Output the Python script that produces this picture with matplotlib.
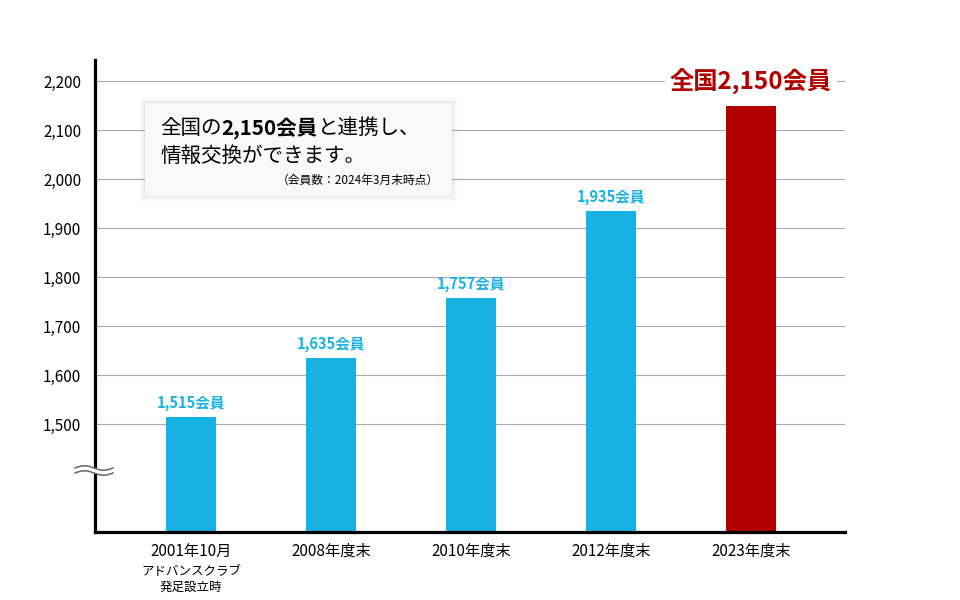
import matplotlib
matplotlib.use('Agg')
import matplotlib.pyplot as plt
import numpy as np
from matplotlib.patches import Rectangle

plt.rcParams['font.family'] = ['Noto Sans CJK JP', 'DejaVu Sans']

categories = ['2001年10月', '2008年度末', '2010年度末', '2012年度末', '2023年度末']
sub_label = 'アドバンスクラブ\n発足設立時'
members = [1515, 1635, 1757, 1935, 2150]
bar_labels = ['1,515会員', '1,635会員', '1,757会員', '1,935会員']
yticks = [1500, 1600, 1700, 1800, 1900, 2000, 2100, 2200]
ytick_labels = ['1,500', '1,600', '1,700', '1,800', '1,900', '2,000', '2,100', '2,200']

blue = '#17b1e3'
red = '#b00000'

fig = plt.figure(figsize=(9.6, 6), dpi=100)
ax = fig.add_axes([95/960, 68/600, 750/960, 472/600])

x = np.arange(len(members))
colors = [blue] * 4 + [red]
ax.bar(x, members, width=0.357, color=colors, zorder=2)

ax.set_xlim(-0.686, 4.671)
ax.set_ylim(1279.6, 2242.9)

for yt in yticks:
    ax.axhline(yt, color='#aaaaaa', lw=0.8, zorder=1)

ax.set_yticks(yticks)
ax.set_yticklabels(ytick_labels, fontsize=11)
ax.set_xticks(x)
ax.set_xticklabels(categories, fontsize=11)
ax.tick_params(length=0, pad=8)
ax.tick_params(axis='y', pad=10)
ax.text(0, -0.07, sub_label, transform=ax.get_xaxis_transform(), ha='center', va='top',
        fontsize=9, linespacing=1.25)

for s in ['top', 'right']:
    ax.spines[s].set_visible(False)
for s in ['left', 'bottom']:
    ax.spines[s].set_linewidth(2.3)
    ax.spines[s].set_color('black')

for xi, v, lab in zip(x, members, bar_labels):
    ax.text(xi, v + 12, lab, ha='center', va='bottom', color=blue, fontsize=10.5, fontweight='bold')

ax.text(4, 2199, '全国2,150会員', ha='center', va='center', color=red, fontsize=17.5,
        fontweight='bold', zorder=4,
        bbox=dict(boxstyle='square,pad=0.2', fc='white', ec='none'))

# axis break mark
xs = np.linspace(75, 113, 40) / 960
for off in (0, 5):
    ys = (600 - 468 - off + 2.2 * np.sin((xs * 960 - 75) / 38 * 2 * np.pi)) / 600
    fig.lines.append(plt.Line2D(xs, ys, color='#666666', lw=1.1, transform=fig.transFigure, zorder=5))
fig.patches.append(Rectangle((75/960, (600-473)/600), 38/960, 5/600, transform=fig.transFigure,
                             fc='white', ec='none', zorder=4))

# info box with soft shadow
for i, a in enumerate([0.015, 0.02, 0.025, 0.03]):
    d = (4 - i) * 1.2
    fig.patches.append(Rectangle(((145 - d)/960, (600 - 196 - d)/600), (307 + 2*d)/960, (93 + 2*d)/600,
                                 transform=fig.transFigure, fc='black', alpha=a, ec='none', zorder=5))
fig.patches.append(Rectangle((145/960, (600 - 196)/600), 307/960, 93/600, transform=fig.transFigure,
                             fc='#f9f9f9', ec='none', zorder=6))
t1 = fig.text(160/960, (600 - 128)/600, '全国の', fontsize=14.8, va='center', ha='left', zorder=7)
fig.canvas.draw()
r = fig.canvas.get_renderer()
bb = t1.get_window_extent(r)
t2 = fig.text(bb.x1/960, (600 - 128)/600, '2,150会員', fontsize=14.8, fontweight='bold', va='center', ha='left', zorder=7)
bb2 = t2.get_window_extent(r)
fig.text(bb2.x1/960, (600 - 128)/600, 'と連携し、', fontsize=14.8, va='center', ha='left', zorder=7)
fig.text(160/960, (600 - 156)/600, '情報交換ができます。', fontsize=14.8, va='center', ha='left', zorder=7)
fig.text(439/960, (600 - 180)/600, '（会員数：2024年3月末時点）', fontsize=8.5, va='center', ha='right', zorder=7)

fig.savefig('out.png', dpi=100)
